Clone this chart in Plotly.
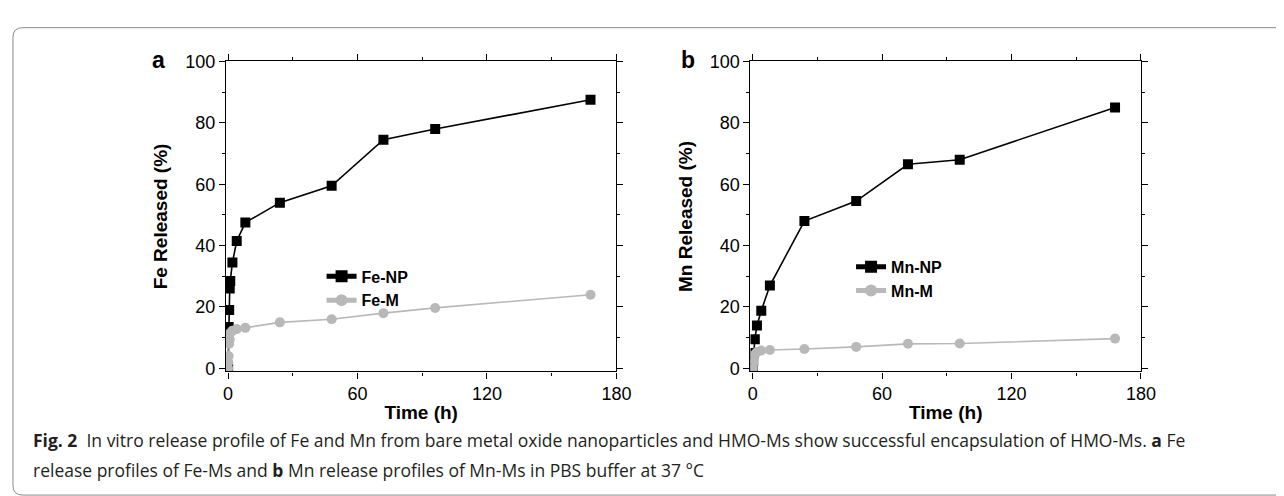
import plotly.graph_objects as go

# ---- data ----
fe_np_t = [0, 0.25, 0.5, 0.75, 1, 2, 4, 8, 24, 48, 72, 96, 168]
fe_np_v = [0, 13.5, 19, 26, 28.5, 34.5, 41.5, 47.5, 54, 59.5, 74.5, 78, 87.5]
fe_m_t = [0, 0.1, 0.25, 0.5, 0.75, 1, 2, 4, 8, 24, 48, 72, 96, 168]
fe_m_v = [0, 2, 4, 8, 9.5, 11.5, 12.3, 12.8, 13.2, 15, 16, 18, 19.7, 24]

mn_np_t = [0, 0.25, 0.5, 1, 2, 4, 8, 24, 48, 72, 96, 168]
mn_np_v = [0, 2.5, 5, 9.5, 14, 18.8, 27, 48, 54.5, 66.5, 68, 85]
mn_m_t = [0, 0.25, 0.5, 1, 2, 4, 8, 24, 48, 72, 96, 168]
mn_m_v = [0, 1.5, 3, 4.5, 5.3, 5.8, 6, 6.3, 7, 8, 8.1, 9.7]

x_ticks = [0, 60, 120, 180]
y_ticks = [0, 20, 40, 60, 80, 100]

black = "#000000"
gray = "#b8b8b8"

fig = go.Figure()

def add(t, v, name, color, symbol, xa, ya, legend):
    fig.add_trace(go.Scatter(
        x=t, y=v, name="<b>" + name + "</b>", mode="lines+markers",
        line=dict(color=color, width=1.6),
        marker=dict(symbol=symbol, size=10, color=color, line=dict(width=0)),
        xaxis=xa, yaxis=ya, legend=legend))

add(fe_np_t, fe_np_v, "Fe-NP", black, "square", "x", "y", "legend")
add(fe_m_t, fe_m_v, "Fe-M", gray, "circle", "x", "y", "legend")
add(mn_np_t, mn_np_v, "Mn-NP", black, "square", "x2", "y2", "legend2")
add(mn_m_t, mn_m_v, "Mn-M", gray, "circle", "x2", "y2", "legend2")

W, H = 1284, 496
def px(x):
    return x / W
def py(y):
    return 1 - y / H

FONT = "Liberation Sans, Arial, sans-serif"
axis_font = dict(family=FONT, size=18, color="black")
title_font = dict(family=FONT, size=19, color="black")

def xaxis(domain, anchor):
    return dict(domain=domain, anchor=anchor, range=[-1, 180], tickvals=x_ticks,
                ticks="outside", ticklen=6, tickwidth=1.2, tickcolor="black",
                minor=dict(tickvals=[30, 90, 150], ticks="outside", ticklen=3, tickcolor="black"),
                showline=True, linecolor="black", linewidth=1.2, mirror="ticks",
                showgrid=False, zeroline=False, tickfont=axis_font,
                title=dict(text="<b>Time (h)</b>", font=title_font, standoff=2))

def yaxis(domain, anchor, title):
    return dict(domain=domain, anchor=anchor, range=[-1, 100], tickvals=y_ticks,
                ticks="outside", ticklen=6, tickwidth=1.2, tickcolor="black",
                minor=dict(tickvals=[10, 30, 50, 70, 90], ticks="outside", ticklen=3, tickcolor="black"),
                showline=True, linecolor="black", linewidth=1.2, mirror="ticks",
                showgrid=False, zeroline=False, tickfont=axis_font,
                title=dict(text="<b>" + title + "</b>", font=title_font, standoff=12))

ydom = [py(366), py(45)]
legfont = dict(family=FONT, size=16, color="black")

fig.update_layout(
    width=W, height=H,
    margin=dict(l=0, r=0, t=0, b=0),
    paper_bgcolor="white", plot_bgcolor="white",
    xaxis=xaxis([px(218), px(614)], "y"),
    yaxis=yaxis(ydom, "x", "Fe Released (%)"),
    xaxis2=xaxis([px(750), px(1146)], "y2"),
    yaxis2=yaxis(ydom, "x2", "Mn Released (%)"),
    legend=dict(x=px(315), y=py(250), xanchor="left", yanchor="top",
                bgcolor="rgba(0,0,0,0)", font=legfont, tracegroupgap=0,
                itemwidth=30, itemsizing="constant"),
    legend2=dict(x=px(852), y=py(240), xanchor="left", yanchor="top",
                 bgcolor="rgba(0,0,0,0)", font=legfont, tracegroupgap=0,
                 itemwidth=30, itemsizing="constant"),
    showlegend=True,
)

# panel letters
for txt, x in [("a", 150), ("b", 687)]:
    fig.add_annotation(text="<b>" + txt + "</b>", x=px(x), y=py(44), xref="paper", yref="paper",
                       showarrow=False, xanchor="center", yanchor="middle",
                       font=dict(family=FONT, size=23, color="black"))

cap_font = dict(family="Open Sans, sans-serif", size=17.5, color="#231f20")
fig.add_annotation(
    text="<b>Fig. 2</b>  In vitro release profile of Fe and Mn from bare metal oxide nanoparticles and HMO-Ms show successful encapsulation of HMO-Ms. <b>a</b> Fe",
    x=px(20), y=py(437), xref="paper", yref="paper", showarrow=False,
    xanchor="left", yanchor="middle", font=cap_font)
fig.add_annotation(
    text="release profiles of Fe-Ms and <b>b</b> Mn release profiles of Mn-Ms in PBS buffer at 37 °C",
    x=px(20), y=py(468), xref="paper", yref="paper", showarrow=False,
    xanchor="left", yanchor="middle", font=cap_font)

# figure border (rounded, left/top/bottom)
fig.add_shape(type="path", xref="paper", yref="paper",
              path=f"M {px(1284)},{py(10)} L {px(12)},{py(10)} Q {px(2)},{py(10)} {px(2)},{py(20)} "
                   f"L {px(2)},{py(484)} Q {px(2)},{py(494)} {px(12)},{py(494)} L {px(1284)},{py(494)}",
              line=dict(color="#8a8a8a", width=1))

fig.write_html("out.html")
